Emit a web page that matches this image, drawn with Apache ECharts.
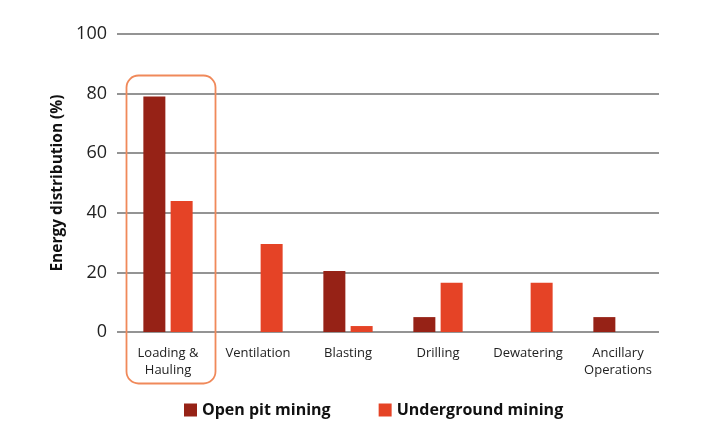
<!DOCTYPE html>
<html><head><meta charset="utf-8">
<script src="https://cdn.jsdelivr.net/npm/echarts@6/dist/echarts.min.js"></script>
<style>html,body{margin:0;padding:0;background:#fff}#c{width:720px;height:445px}</style>
</head><body><div id="c"></div>
<script>
const categories = ['Loading &\nHauling', 'Ventilation', 'Blasting', 'Drilling', 'Dewatering', 'Ancillary\nOperations'];
const openPit = [79, null, 20.5, 5, null, 5];
const underground = [44, 29.5, 2, 16.5, 16.5, null];
const yTicks = [0, 20, 40, 60, 80, 100];

const chart = echarts.init(document.getElementById('c'));
chart.setOption({
  animation: false,
  textStyle: { fontFamily: 'Open Sans' },
  grid: [
    { left: 117, right: 61, top: 34, bottom: 113 },
    { left: 123, right: 57, top: 34, bottom: 113 }
  ],
  legend: {
    bottom: 22, left: 179, itemWidth: 13, itemHeight: 13, itemGap: 48,
    icon: 'rect',
    textStyle: { fontSize: 16, fontWeight: 'bold', color: '#111', fontFamily: 'Open Sans' },
    data: ['Open pit mining', 'Underground mining']
  },
  xAxis: [
    { type: 'category', gridIndex: 0, data: categories, show: false },
    {
      type: 'category', gridIndex: 1, data: categories,
      axisLine: { show: false }, axisTick: { show: false },
      axisLabel: { fontSize: 13, color: '#222', margin: 13, lineHeight: 17, interval: 0 }
    }
  ],
  yAxis: [
    {
      type: 'value', gridIndex: 0, min: 0, max: 100, interval: 20,
      name: 'Energy distribution (%)', nameLocation: 'middle', nameGap: 47,
      nameTextStyle: { fontSize: 15.5, fontWeight: 'bold', color: '#111' },
      axisLine: { show: false }, axisTick: { show: false },
      axisLabel: { fontSize: 18, color: '#222', margin: 10,
        formatter: v => yTicks.includes(v) ? String(v) : '' },
      splitLine: { lineStyle: { color: '#707070', width: 1.5 } }
    },
    { type: 'value', gridIndex: 1, min: 0, max: 100, interval: 20, show: false, splitLine: { show: false } }
  ],
  series: [
    { name: 'Open pit mining', type: 'bar', xAxisIndex: 1, yAxisIndex: 1, data: openPit, barWidth: 22, barGap: '24%',
      itemStyle: { color: '#962216' } },
    { name: 'Underground mining', type: 'bar', xAxisIndex: 1, yAxisIndex: 1, data: underground, barWidth: 22,
      itemStyle: { color: '#e54326' } }
  ],
  graphic: [{
    type: 'rect', left: 124, top: 73, z: 10,
    shape: { width: 89, height: 308, r: 12 },
    style: { fill: 'none', stroke: '#f0895a', lineWidth: 1.8 }
  }]
});
</script></body></html>
